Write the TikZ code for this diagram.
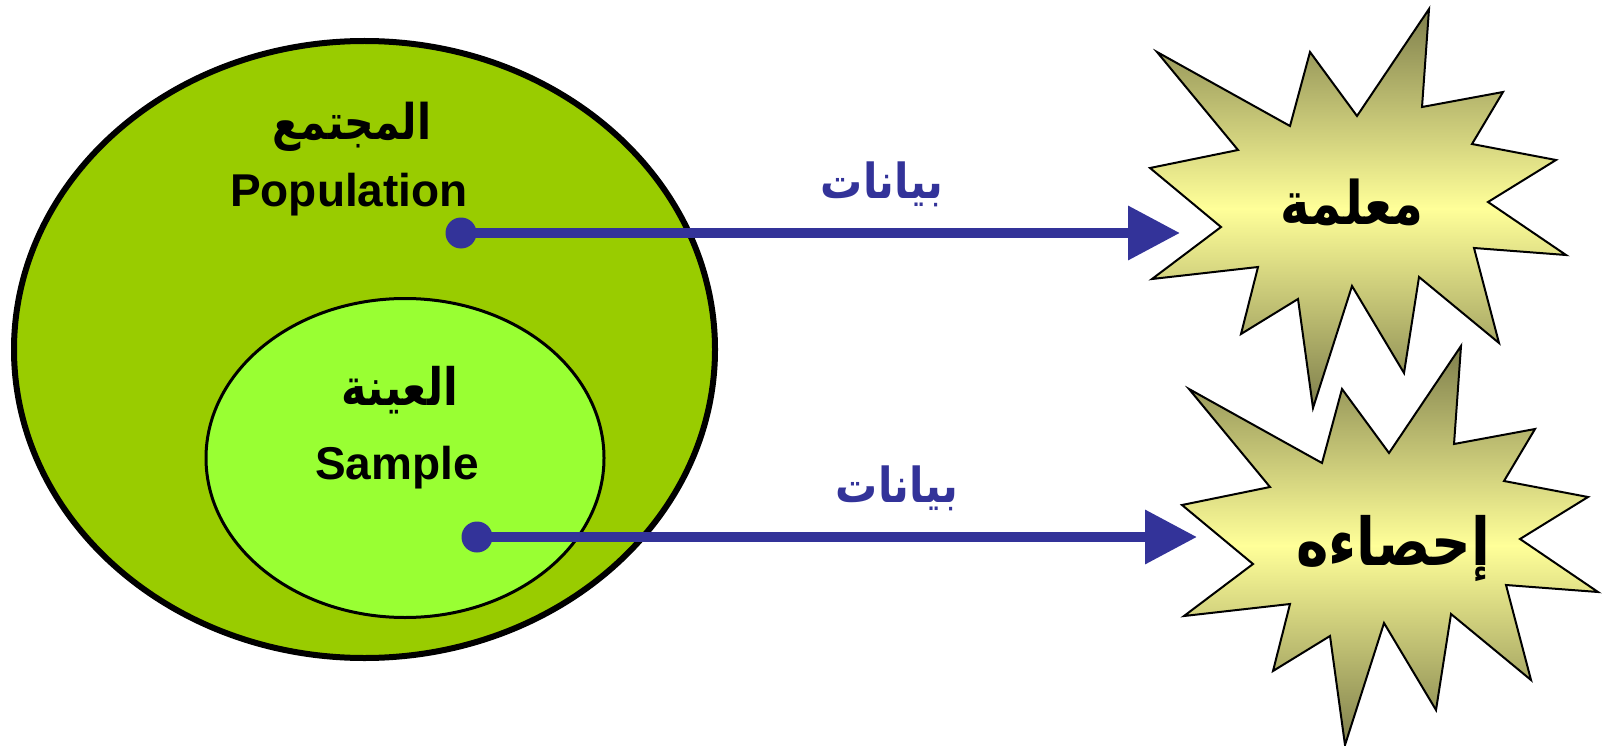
\documentclass[tikz,border=0pt]{standalone}
\usepackage{fontspec}
\setmainfont{Liberation Sans}
\newfontfamily\arabicfont[Script=Arabic]{DejaVu Sans}
\TeXXeTstate=1
\usetikzlibrary{arrows.meta,shapes.geometric}

\definecolor{popgreen}{HTML}{99CC00}
\definecolor{samplegreen}{HTML}{99FF33}
\definecolor{datablue}{HTML}{333399}
\definecolor{starlight}{HTML}{FFFF99}
\definecolor{stardark}{HTML}{7F7F4C}

\tikzset{
  setshape/.style={ellipse, draw=black, inner sep=0pt, outer sep=0pt},
  latintext/.style={font=\fontsize{46}{54}\selectfont\bfseries, text=black, inner sep=0pt},
  arabictext/.style={font=\arabicfont\fontsize{#1}{#1}\selectfont\bfseries, text=black,
    inner sep=0pt, yscale=1.2, transform shape},
  datalabel/.style={font=\arabicfont\fontsize{42}{48}\selectfont\bfseries, text=datablue,
    inner sep=0pt, yscale=1.15, transform shape},
  datadot/.style={circle, fill=datablue, minimum size=31pt, inner sep=0pt},
  datalink/.style={datablue, line width=10pt, -{Triangle[length=52pt,width=52pt]}},
  burst/.style={draw=black, line width=2pt, line join=miter,
    top color=stardark, bottom color=stardark, middle color=starlight},
}

\begin{document}
\begin{tikzpicture}[x=1pt,y=-1pt]
\useasboundingbox (0,0) rectangle (1605,746);

% population and sample sets
\node[setshape, line width=6pt, fill=popgreen, minimum width=701pt, minimum height=617pt]
  (population) at (364.5,349.5) {};
\node[setshape, line width=3pt, fill=samplegreen, minimum width=398pt, minimum height=319pt]
  (sample) at (405,458) {};

\node[arabictext=41] (poplabelar) at (352,127) {\beginR المجتمع\endR};
\node[latintext, anchor=base] (poplabel) at (349,206) {Population};
\node[arabictext=43] (samplabelar) at (400,390) {\beginR العينة\endR};
\node[latintext, anchor=base] (samplabel) at (397,479) {Sample};

% parameter burst
\draw[burst] (1429,9) -- (1422,107) -- (1503,92) -- (1472,144) -- (1556,160)
  -- (1488,202) -- (1566,255) -- (1474,248) -- (1499,343) -- (1419,277)
  -- (1404,373) -- (1352,286) -- (1313,408) -- (1298,299) -- (1241,334)
  -- (1258,267) -- (1152,279) -- (1221,227) -- (1150,168) -- (1238,150)
  -- (1157,52) -- (1290,126) -- (1310,52) -- (1357,116) -- cycle;
\node[arabictext=50] (param) at (1352,202) {\beginR معلمة\endR};

% statistic burst
\begin{scope}[shift={(32,337)}]
\draw[burst] (1429,9) -- (1422,107) -- (1503,92) -- (1472,144) -- (1556,160)
  -- (1488,202) -- (1566,255) -- (1474,248) -- (1499,343) -- (1419,277)
  -- (1404,373) -- (1352,286) -- (1313,408) -- (1298,299) -- (1241,334)
  -- (1258,267) -- (1152,279) -- (1221,227) -- (1150,168) -- (1238,150)
  -- (1157,52) -- (1290,126) -- (1310,52) -- (1357,116) -- cycle;
\end{scope}
\node[arabictext=55] (stat) at (1393,548) {\beginR إحصاءه\endR};

% data links
\node[datadot] (popdot) at (461,233) {};
\node[datadot] (sampdot) at (477,537) {};
\coordinate (popend) at (1180,233);
\coordinate (sampend) at (1197,537);
\draw[datalink] (popdot.center) -- (popend);
\draw[datalink] (sampdot.center) -- (sampend);
\node[datalabel] (popdata) at (882,184) {\beginR بيانات\endR};
\node[datalabel] (sampdata) at (897,488) {\beginR بيانات\endR};
\end{tikzpicture}
\end{document}
